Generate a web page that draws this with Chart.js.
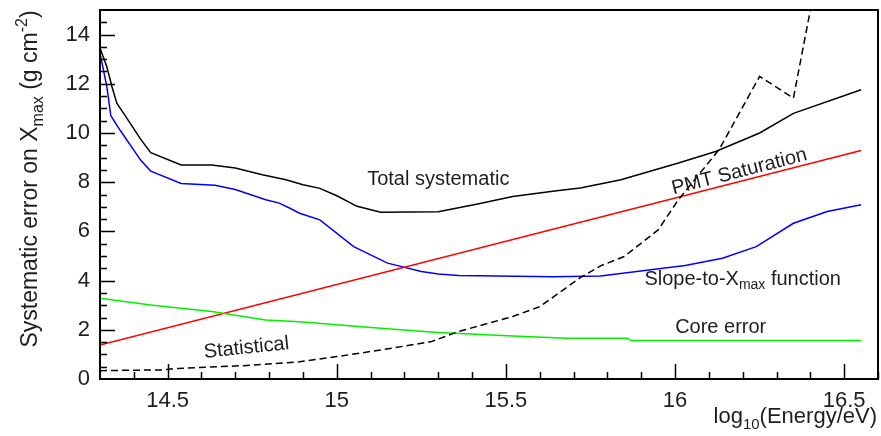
<!DOCTYPE html>
<html>
<head>
<meta charset="utf-8">
<script src="https://cdn.jsdelivr.net/npm/chart.js@4.4.0/dist/chart.umd.min.js"></script>
<style>
  html, body { margin: 0; padding: 0; background: #fff; }
  #wrap { width: 881px; height: 436px; }
</style>
</head>
<body>
<div id="wrap"><canvas id="myChart"></canvas></div>
<script>
// tick labels
const xTicks = [14.5, 15, 15.5, 16, 16.5];
const yTicks = [0, 2, 4, 6, 8, 10, 12, 14];

// Total systematic (black)
const totalX = [14.30, 14.32, 14.335, 14.35, 14.37, 14.42, 14.45, 14.54, 14.63, 14.70, 14.78, 14.85, 14.90, 14.95, 15.00, 15.06, 15.13, 15.30, 15.42, 15.52, 15.65, 15.72, 15.84, 16.01, 16.12, 16.25, 16.35, 16.55];
const totalY = [13.45, 12.7, 11.9, 11.2, 10.8, 9.75, 9.2, 8.7, 8.7, 8.58, 8.3, 8.1, 7.9, 7.75, 7.45, 7.02, 6.78, 6.8, 7.12, 7.42, 7.65, 7.76, 8.1, 8.78, 9.25, 10.0, 10.8, 11.76];

// Slope-to-Xmax function (blue)
const slopeX = [14.30, 14.32, 14.332, 14.36, 14.42, 14.45, 14.54, 14.64, 14.70, 14.79, 14.83, 14.86, 14.89, 14.95, 15.05, 15.15, 15.25, 15.30, 15.36, 15.64, 15.78, 15.94, 16.03, 16.14, 16.24, 16.35, 16.45, 16.55];
const slopeY = [13.25, 11.9, 10.7, 10.1, 8.9, 8.45, 7.95, 7.88, 7.7, 7.29, 7.15, 6.95, 6.74, 6.47, 5.38, 4.71, 4.37, 4.27, 4.21, 4.16, 4.19, 4.46, 4.61, 4.91, 5.38, 6.33, 6.81, 7.08];

// PMT Saturation (red)
const pmtX = [14.30, 16.55];
const pmtY = [1.38, 9.29];

// Core error (green)
const coreX = [14.30, 14.45, 14.63, 14.79, 14.89, 15.13, 15.30, 15.52, 15.68, 15.86, 15.87, 16.55];
const coreY = [3.28, 3.01, 2.74, 2.40, 2.33, 2.06, 1.89, 1.75, 1.66, 1.66, 1.56, 1.56];

// Statistical (dashed)
const statX = [14.30, 14.48, 14.53, 14.72, 14.89, 15.00, 15.13, 15.28, 15.36, 15.52, 15.60, 15.72, 15.78, 15.85, 15.95, 16.01, 16.13, 16.25, 16.35, 16.40, 16.42];
const statY = [0.34, 0.37, 0.43, 0.54, 0.70, 0.91, 1.18, 1.52, 1.93, 2.54, 2.94, 4.12, 4.6, 4.98, 6.06, 7.29, 9.32, 12.3, 11.42, 15.0, 16.0];

// curve labels, placed in data coordinates
const curveLabels = [
    { parts: [['Total systematic']], x: 15.30, y: 8.10, angle: 0 },
    { parts: [['PMT Saturation']], x: 16.19, y: 8.42, angle: -14.5 },
    { parts: [['Slope-to-X'], ['max', 'sub'], [' function']], x: 16.20, y: 4.03, angle: 0 },
    { parts: [['Core error']], x: 16.135, y: 2.08, angle: 0 },
    { parts: [['Statistical']], x: 14.733, y: 1.26, angle: -6 }
];

const FONT = '"Liberation Sans", Arial, Helvetica, sans-serif';
const TEXT = '#1e1e1e';

function pts(xs, ys) {
    return xs.map((x, i) => ({ x: x, y: ys[i] }));
}

// draws text made of normal / sub / sup parts, centred on (0,0) unless align given
function richText(ctx, parts, size, align) {
    const small = Math.round(size * 0.68);
    let w = 0;
    parts.forEach(p => {
        ctx.font = (p[1] ? small : size) + 'px ' + FONT;
        w += ctx.measureText(p[0]).width;
    });
    let x = align === 'right' ? -w : -w / 2;
    ctx.textAlign = 'left';
    parts.forEach(p => {
        ctx.font = (p[1] ? small : size) + 'px ' + FONT;
        let dy = 0;
        if (p[1] === 'sub') dy = size * 0.28;
        if (p[1] === 'sup') dy = -size * 0.42;
        ctx.fillText(p[0], x, dy);
        x += ctx.measureText(p[0]).width;
    });
}

const rootStyle = {
    id: 'rootStyle',
    afterDatasetsDraw(chart) {
        const ctx = chart.ctx;
        const a = chart.chartArea;
        const xs = chart.scales.x, ys = chart.scales.y;
        ctx.save();

        // frame
        ctx.strokeStyle = '#000';
        ctx.lineWidth = 2;
        ctx.strokeRect(a.left, a.top, a.right - a.left, a.bottom - a.top);

        // inward tick marks
        ctx.lineWidth = 1.5;
        ctx.beginPath();
        for (let v = 14.4; v <= 16.6; v += 0.1) {
            const major = xTicks.some(t => Math.abs(t - v) < 1e-6);
            const px = Math.round(xs.getPixelForValue(v)) + 0.5;
            ctx.moveTo(px, a.bottom);
            ctx.lineTo(px, a.bottom - (major ? 15 : 7));
        }
        for (let v = 0.5; v < 15; v += 0.5) {
            const major = yTicks.includes(v);
            const py = Math.round(ys.getPixelForValue(v)) + 0.5;
            ctx.moveTo(a.left, py);
            ctx.lineTo(a.left + (major ? 15 : 7), py);
        }
        ctx.stroke();

        // curve labels
        ctx.fillStyle = TEXT;
        ctx.textBaseline = 'middle';
        curveLabels.forEach(l => {
            ctx.save();
            ctx.translate(xs.getPixelForValue(l.x), ys.getPixelForValue(l.y));
            ctx.rotate(l.angle * Math.PI / 180);
            richText(ctx, l.parts, 20);
            ctx.restore();
        });

        // axis titles
        ctx.textBaseline = 'alphabetic';
        ctx.save();
        ctx.translate(a.right - 1, 423);
        richText(ctx, [['log'], ['10', 'sub'], ['(Energy/eV)']], 22, 'right');
        ctx.restore();

        ctx.save();
        ctx.translate(37, 179);
        ctx.rotate(-Math.PI / 2);
        richText(ctx, [['Systematic error on X'], ['max', 'sub'], [' (g cm'], ['-2', 'sup'], [')']], 23);
        ctx.restore();

        ctx.restore();
    }
};

function line(data, color, dash) {
    return {
        data: data,
        borderColor: color,
        borderWidth: 1.5,
        borderDash: dash || [],
        pointRadius: 0,
        tension: 0,
        fill: false
    };
}

const ctx = document.getElementById('myChart').getContext('2d');
new Chart(ctx, {
    type: 'line',
    data: {
        datasets: [
            line(pts(statX, statY), '#000', [7, 4]),
            line(pts(coreX, coreY), '#00f000'),
            line(pts(pmtX, pmtY), '#ff0000'),
            line(pts(slopeX, slopeY), '#0000ff'),
            line(pts(totalX, totalY), '#000')
        ]
    },
    options: {
        responsive: true,
        maintainAspectRatio: false,
        animation: false,
        devicePixelRatio: 1,
        layout: { padding: { left: 0, top: 10, right: 3, bottom: 0 } },
        plugins: { legend: { display: false }, tooltip: { enabled: false } },
        scales: {
            x: {
                type: 'linear',
                min: 14.3,
                max: 16.6,
                grid: { display: false, drawTicks: false },
                border: { display: false },
                ticks: { font: { size: 22, family: FONT }, color: TEXT, padding: 9, maxRotation: 0, callback: v => String(v) },
                afterBuildTicks: s => { s.ticks = xTicks.map(v => ({ value: v })); },
                afterFit: s => { s.height = 57; s.paddingLeft = 0; s.paddingRight = 0; }
            },
            y: {
                type: 'linear',
                min: 0,
                max: 15,
                grid: { display: false, drawTicks: false },
                border: { display: false },
                ticks: { font: { size: 22, family: FONT }, color: TEXT, padding: 10, callback: v => String(v) },
                afterBuildTicks: s => { s.ticks = yTicks.map(v => ({ value: v })); },
                afterFit: s => { s.width = 100; s.paddingTop = 0; s.paddingBottom = 0; }
            }
        }
    },
    plugins: [rootStyle]
});
</script>
</body>
</html>
